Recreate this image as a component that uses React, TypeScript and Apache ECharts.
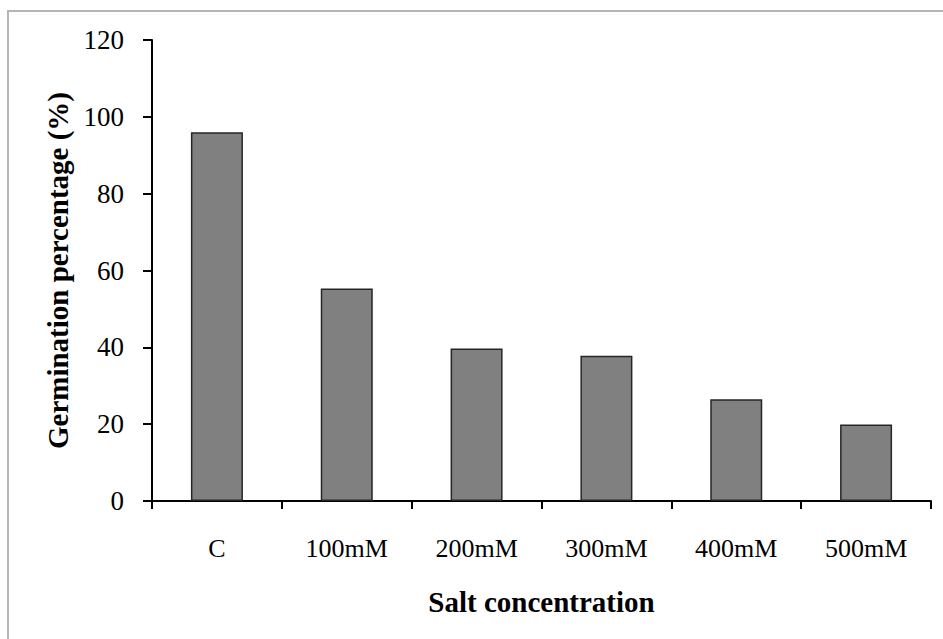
import React, { useEffect, useRef } from "react";
import * as echarts from "echarts";

const categories = ["C", "100mM", "200mM", "300mM", "400mM", "500mM"];
const germination = [96, 55.3, 39.7, 37.8, 26.5, 19.9];
const yTicks = [0, 20, 40, 60, 80, 100, 120];

export default function App() {
  const ref = useRef<HTMLDivElement>(null);
  useEffect(() => {
    if (!ref.current) return;
    const chart = echarts.init(ref.current, null, { renderer: "svg" });
    const serif = "'Liberation Serif', 'Times New Roman', serif";
    chart.setOption({
      animation: false,
      backgroundColor: "#ffffff",
      graphic: [
        {
          type: "rect",
          shape: { x: 8, y: 11, width: 960, height: 660 },
          style: { fill: "none", stroke: "#b5b5b5", lineWidth: 2 },
          silent: true,
        },
      ],
      grid: { left: 152, right: 12, top: 40, bottom: 138 },
      xAxis: {
        type: "category",
        data: categories,
        name: "Salt concentration",
        nameLocation: "middle",
        nameGap: 86,
        nameTextStyle: { fontFamily: serif, fontWeight: "bold", fontSize: 29, color: "#000" },
        axisLine: { lineStyle: { color: "#000", width: 2 } },
        axisTick: { show: true, length: 8, lineStyle: { color: "#000", width: 2 } },
        axisLabel: { fontFamily: serif, fontSize: 26, color: "#000", margin: 34 },
      },
      yAxis: {
        type: "value",
        min: yTicks[0],
        max: yTicks[yTicks.length - 1],
        interval: 20,
        name: "Germination percentage (%)",
        nameLocation: "middle",
        nameGap: 76,
        nameRotate: 90,
        nameTextStyle: { fontFamily: serif, fontWeight: "bold", fontSize: 29, color: "#000" },
        axisLine: { show: true, lineStyle: { color: "#000", width: 2 } },
        axisTick: { show: true, length: 9, lineStyle: { color: "#000", width: 2 } },
        axisLabel: { fontFamily: serif, fontSize: 27, color: "#000", margin: 28 },
        splitLine: { show: false },
      },
      series: [
        {
          type: "bar",
          data: germination,
          barWidth: 52,
          itemStyle: { color: "#808080", borderColor: "#262626", borderWidth: 1.5 },
        },
      ],
    });
    return () => chart.dispose();
  }, []);
  return (
    <div
      ref={ref}
      style={{ position: "absolute", left: 0, top: 0, width: 943, height: 639 }}
    />
  );
}
